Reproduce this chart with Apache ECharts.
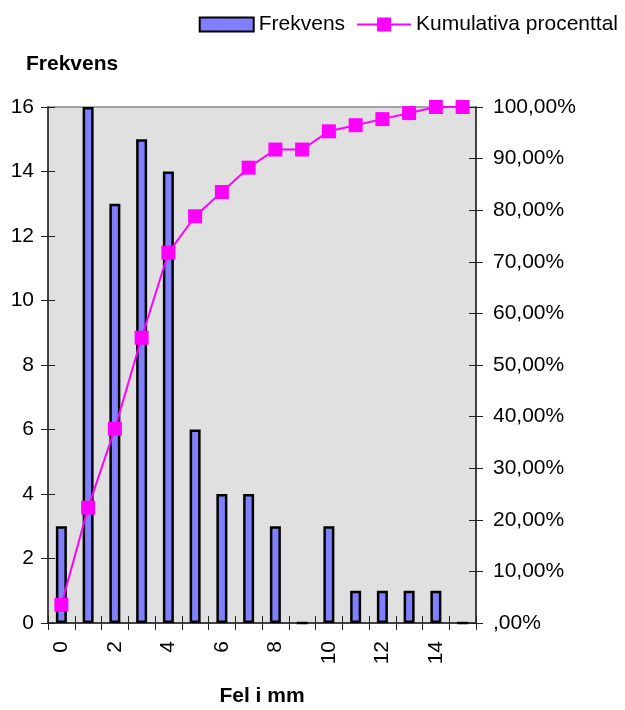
<!DOCTYPE html>
<html>
<head>
<meta charset="utf-8">
<script src="https://cdn.jsdelivr.net/npm/echarts@6/dist/echarts.min.js"></script>
<style>
  html, body { margin: 0; padding: 0; background: #fff; }
  #chart { width: 625px; height: 710px; }
</style>
</head>
<body>
<div id="chart"></div>
<script>
// Fel i mm (kategorier)
const categories = ['0','1','2','3','4','5','6','7','8','9','10','11','12','13','14','15'];
// Antal per kategori
const frekvens = [3, 16, 13, 15, 14, 6, 4, 4, 3, 0, 3, 1, 1, 1, 1, 0];
// Kumulativ andel i procent
const kumulativ = [3.53, 22.35, 37.65, 55.29, 71.76, 78.82, 83.53, 88.24, 91.76, 91.76, 95.29, 96.47, 97.65, 98.82, 100, 100];
// Axelgränser
const freqMax = 16, freqStep = 2;
const pctMax = 100, pctStep = 10;

const FONT = "'Liberation Sans', Arial, sans-serif";
const axisColor = '#222';

function pctLabel(v) {
  if (v === 0) return ',00%';
  return v.toFixed(2).replace('.', ',') + '%';
}

// Legend glyph for the line series: thin line with a square in the middle
const lineIcon = 'path://M0,6 L20,6 L20,0 L34,0 L34,6 L54,6 L54,8 L34,8 L34,14 L20,14 L20,8 L0,8 Z';

const chart = echarts.init(document.getElementById('chart'), null, { renderer: 'canvas' });

const baseX = {
  type: 'category',
  data: categories,
  position: 'bottom',
  boundaryGap: true
};

chart.setOption({
  animation: false,
  textStyle: { fontFamily: FONT },
  title: {
    text: 'Frekvens',
    left: 21,
    top: 49,
    textStyle: { fontFamily: FONT, fontSize: 21, fontWeight: 'bold', color: '#000' }
  },
  legend: {
    right: 2,
    top: 9,
    itemWidth: 54,
    itemHeight: 14,
    itemGap: 12,
    textStyle: { fontFamily: FONT, fontSize: 21, color: '#000' },
    data: [
      { name: 'Frekvens', icon: 'rect' },
      { name: 'Kumulativa procenttal', icon: lineIcon }
    ]
  },
  grid: {
    left: 48, right: 149, top: 107, bottom: 87,
    outerBoundsMode: 'none',
    containLabel: false,
    show: true,
    backgroundColor: '#e0e0e0',
    borderColor: '#8a8a8a',
    borderWidth: 1.5
  },
  xAxis: [
    Object.assign({}, baseX, {
      name: 'Fel i mm',
      nameLocation: 'middle',
      nameGap: 63,
      nameTextStyle: { fontFamily: FONT, fontSize: 21, fontWeight: 'bold', color: '#000' },
      axisLine: { show: true, lineStyle: { color: axisColor, width: 1.5 } },
      axisTick: { show: true, interval: 0, length: 7, lineStyle: { color: axisColor, width: 1 } },
      axisLabel: { interval: 1, rotate: 90, margin: 18, fontFamily: FONT, fontSize: 21, color: '#000' },
      splitLine: { show: false }
    }),
    Object.assign({}, baseX, {
      axisLine: { show: false },
      axisTick: { show: true, inside: true, interval: 0, length: 7, lineStyle: { color: axisColor, width: 1 } },
      axisLabel: { show: false },
      splitLine: { show: false }
    })
  ],
  yAxis: [
    {
      type: 'value', position: 'left', min: 0, max: freqMax, interval: freqStep,
      axisLine: { show: true, lineStyle: { color: axisColor, width: 1.5 } },
      axisTick: { show: true, length: 7, lineStyle: { color: axisColor, width: 1 } },
      axisLabel: { margin: 14, fontFamily: FONT, fontSize: 21, color: '#000' },
      splitLine: { show: false }
    },
    {
      type: 'value', position: 'right', min: 0, max: pctMax, interval: pctStep,
      axisLine: { show: true, lineStyle: { color: axisColor, width: 1.5 } },
      axisTick: { show: true, length: 7, lineStyle: { color: axisColor, width: 1 } },
      axisLabel: { margin: 17, fontFamily: FONT, fontSize: 21, color: '#000', formatter: pctLabel },
      splitLine: { show: false }
    },
    {
      type: 'value', position: 'left', min: 0, max: freqMax, interval: freqStep,
      axisLine: { show: false },
      axisTick: { show: true, inside: true, length: 7, lineStyle: { color: axisColor, width: 1 } },
      axisLabel: { show: false },
      splitLine: { show: false }
    },
    {
      type: 'value', position: 'right', min: 0, max: pctMax, interval: pctStep,
      axisLine: { show: false },
      axisTick: { show: true, inside: true, length: 7, lineStyle: { color: axisColor, width: 1 } },
      axisLabel: { show: false },
      splitLine: { show: false }
    }
  ],
  series: [
    {
      name: 'Frekvens',
      type: 'bar',
      xAxisIndex: 0,
      yAxisIndex: 0,
      data: frekvens,
      barWidth: 11,
      itemStyle: { color: '#8080ff', borderColor: '#000', borderWidth: 2.5 }
    },
    {
      name: 'Kumulativa procenttal',
      type: 'line',
      xAxisIndex: 0,
      yAxisIndex: 1,
      data: kumulativ,
      clip: false,
      symbol: 'rect',
      symbolSize: 14,
      lineStyle: { color: '#ff00ff', width: 2 },
      itemStyle: { color: '#ff00ff' },
      z: 5
    }
  ]
});
</script>
</body>
</html>
